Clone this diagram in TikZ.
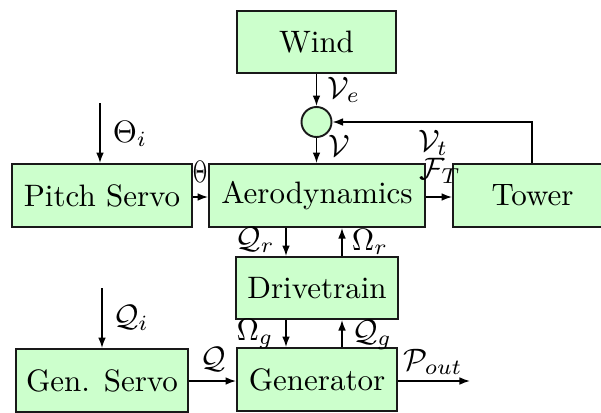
\documentclass[tikz,border=0pt]{standalone}
\usetikzlibrary{arrows.meta}
\newcommand{\pxu}{0.32258pt}
\begin{document}
\begin{tikzpicture}[x=\pxu,y=-\pxu,
  font=\fontsize{10}{12}\selectfont,
  blk/.style={draw=black!90, fill=green!20, line width=0.62pt, inner sep=0pt, rectangle},
  arr/.style={-{Latex[length=3.4pt,width=2.5pt]}, line width=0.5pt, draw=black},
  lbl/.style={inner sep=0pt}]
\useasboundingbox (0,0) rectangle (601,412);
\begin{scope}
\clip (0,0) rectangle (601,412);
\node[blk, minimum width=159*\pxu, minimum height=62*\pxu] (wind) at (316.5,42) {Wind};
\node[blk, circle, minimum size=30*\pxu] (sum) at (316.5,122) {};
\node[blk, minimum width=216*\pxu, minimum height=63*\pxu] (aero) at (317,195.5) {Aerodynamics};
\node[blk, minimum width=180*\pxu, minimum height=63*\pxu] (pitch) at (102,195.5) {Pitch Servo};
\node[blk, minimum width=159*\pxu, minimum height=63*\pxu] (tower) at (532.5,195.5) {Tower};
\node[blk, minimum width=162*\pxu, minimum height=62*\pxu] (drive) at (317,288) {Drivetrain};
\node[blk, minimum width=160*\pxu, minimum height=63*\pxu] (gen) at (317,379.5) {Generator};
\node[blk, minimum width=172*\pxu, minimum height=63*\pxu] (gens) at (102,380.5) {Gen. Servo};

\coordinate (thin) at (100,103);
\coordinate (qin) at (102,288);
\coordinate (pout) at (470,381);
\coordinate (tcorner) at (532,122);

% wind and tower feedback
\draw[arr] (wind.south) -- (sum.north);
\draw[arr] (sum.south) -- (aero.north -| sum.south);
\draw[arr] (tower.north -| tcorner) -- (tcorner) -- (sum.east);
\draw[arr] (aero.east |- 0,197) -- (tower.west |- 0,197);

% pitch
\draw[arr] (thin) -- (pitch.north -| thin);
\draw[arr] (pitch.east |- 0,197) -- (aero.west |- 0,197);

% aero <-> drivetrain
\draw[arr] (aero.south -| 286,0) -- (drive.north -| 286,0);
\draw[arr] (drive.north -| 342,0) -- (aero.south -| 342,0);
% drivetrain <-> generator
\draw[arr] (drive.south -| 286,0) -- (gen.north -| 286,0);
\draw[arr] (gen.north -| 342,0) -- (drive.south -| 342,0);

% generator
\draw[arr] (qin) -- (gens.north -| qin);
\draw[arr] (gens.east |- 0,381) -- (gen.west |- 0,381);
\draw[arr] (gen.east |- 0,381) -- (pout);
\end{scope}

% labels
\node[lbl] (lve) at (344,90) {$\mathcal{V}_e$};
\node[lbl] (lv) at (339,146) {$\mathcal{V}$};
\node[lbl] (lvt) at (433,143) {$\mathcal{V}_t$};
\node[lbl] (lft) at (440,171) {$\mathcal{F}_T$};
\node[lbl] (lthi) at (130,134) {$\Theta_i$};
\node[lbl, fill=white] (lth) at (200,172) {\scalebox{0.6}[1]{$\Theta$}};
\node[lbl] (lqr) at (255,240) {$\mathcal{Q}_r$};
\node[lbl] (lor) at (370,242) {$\Omega_r$};
\node[lbl] (log) at (255,334) {$\Omega_g$};
\node[lbl] (lqg) at (372,335) {$\mathcal{Q}_g$};
\node[lbl] (lq) at (213,359) {$\mathcal{Q}$};
\node[lbl] (lpo) at (433,362) {$\mathcal{P}_{out}$};
\node[lbl] (lqi) at (131,318) {$\mathcal{Q}_i$};
\end{tikzpicture}
\end{document}
